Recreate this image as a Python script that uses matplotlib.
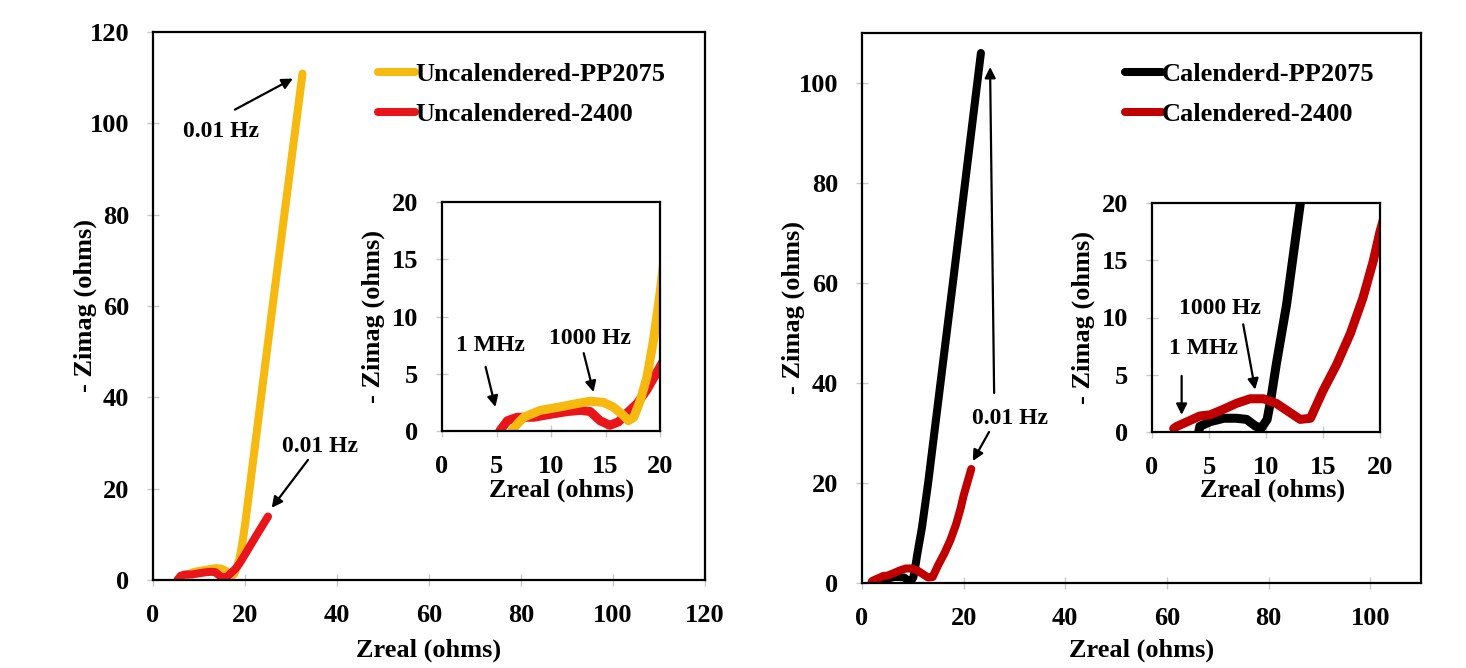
import matplotlib
matplotlib.use("Agg")
import matplotlib.pyplot as plt

plt.rcParams["font.family"] = ["Liberation Serif", "DejaVu Serif"]
plt.rcParams["font.weight"] = "bold"

# uncalendered cells (left panel)
unc_pp_x = [6.4, 6.9, 7.5, 9.0, 10.8, 12.4, 13.6, 14.8, 15.7, 16.6, 17.1, 17.6,
            18.2, 18.8, 19.4, 20.0, 26.0, 32.5]
unc_pp_y = [0.0, 0.6, 1.2, 1.8, 2.1, 2.4, 2.6, 2.5, 2.1, 1.4, 0.9, 1.2,
            2.7, 4.7, 7.9, 12.0, 60.0, 110.9]
unc_24_x = [5.3, 6.0, 6.9, 8.4, 10.2, 11.5, 12.7, 13.6, 14.5, 15.4, 16.2, 16.9,
            17.9, 18.8, 20.0, 22.5, 25.0]
unc_24_y = [0.0, 0.9, 1.2, 1.2, 1.5, 1.7, 1.8, 1.7, 0.9, 0.5, 0.8, 1.5,
            2.4, 3.6, 5.6, 9.8, 13.9]

# calendered cells (right panel)
cal_pp_x = [4.1, 4.2, 5.1, 6.3, 7.4, 8.3, 9.1, 9.6, 10.1, 10.4, 10.9, 11.8,
            13.0, 18.0, 23.4]
cal_pp_y = [0.0, 0.5, 0.9, 1.2, 1.2, 1.1, 0.5, 0.35, 1.1, 2.7, 5.9, 11.1,
            19.9, 61.0, 106.0]
cal_24_x = [1.9, 2.2, 3.1, 4.2, 5.1, 6.3, 7.4, 8.6, 9.8, 10.9, 12.1, 13.0,
            13.9, 15.0, 16.2, 17.4, 18.5, 19.4, 20.0, 21.5]
cal_24_y = [0.3, 0.5, 0.9, 1.4, 1.5, 2.0, 2.5, 2.9, 2.9, 2.5, 1.7, 1.1,
            1.2, 3.6, 5.9, 8.6, 11.7, 14.9, 17.5, 22.8]

GOLD, RED, DKRED, BLACK = "#F6B910", "#E8161B", "#C00000", "#000000"
W, H = 1466, 668
fig = plt.figure(figsize=(W / 100, H / 100), dpi=100)


def px_axes(x0, x1, ytop, ybot):
    return fig.add_axes([x0 / W, 1 - ybot / H, (x1 - x0) / W, (ybot - ytop) / H])


def style(ax, xlim, ylim, step, ylab_x, xlab_y, xlab_x=0.5):
    ax.set_xlim(*xlim)
    ax.set_ylim(*ylim)
    ax.set_xticks(range(0, int(xlim[1]) + 1, step))
    ax.set_yticks(range(0, int(ylim[1]) + 1, step))
    for s in ax.spines.values():
        s.set_linewidth(1.6)
    ax.tick_params(direction="inout", length=8, width=1, color="#c8c8c8",
                   labelsize=19, pad=13)
    ax.set_xlabel("Zreal (ohms)", fontsize=19, fontweight="bold", va="center")
    ax.set_ylabel("- Zimag (ohms)", fontsize=19, fontweight="bold", va="center")
    ax.xaxis.set_label_coords(xlab_x, xlab_y)
    ax.yaxis.set_label_coords(ylab_x, 0.5)


def note(ax, txt, pos, tail, head):
    ax.text(*pos, txt, fontsize=17, fontweight="bold", ha="center", va="center")
    ax.annotate("", xy=head, xytext=tail,
                arrowprops=dict(arrowstyle="-|>", color="black", lw=1.6,
                                mutation_scale=16, shrinkA=0, shrinkB=0))


lk = dict(lw=5.8, solid_capstyle="round", solid_joinstyle="round")
ik = dict(lw=6.5, solid_capstyle="round", solid_joinstyle="round")
leg = dict(bbox_transform=fig.transFigure, frameon=False, fontsize=19,
           handlelength=1.4, handletextpad=0.0, borderpad=0, borderaxespad=0,
           labelspacing=0.62, loc="upper left")

# left main
a1 = px_axes(153, 705, 32, 580)
a1.plot(unc_pp_x, unc_pp_y, color=GOLD, label="Uncalendered-PP2075", **lk)
a1.plot(unc_24_x, unc_24_y, color=RED, label="Uncalendered-2400", **lk)
style(a1, (0, 120), (0, 120), 20, -0.123, -0.128)
note(a1, "0.01 Hz", (14.7, 98.3), (17.8, 103), (30.4, 109.8))
note(a1, "0.01 Hz", (36.3, 29.2), (33.7, 26.3), (25.8, 15.8))
a1.legend(bbox_to_anchor=(378 / W, 1 - 63 / H), **leg)

# left inset
i1 = px_axes(442, 660, 202, 431)
i1.plot(unc_24_x, unc_24_y, color=RED, **ik)
i1.plot(unc_pp_x, unc_pp_y, color=GOLD, **ik)
style(i1, (0, 20), (0, 20), 5, -0.3165, -0.258, 0.55)
note(i1, "1 MHz", (4.4, 7.5), (4.0, 5.6), (4.9, 2.1))
note(i1, "1000 Hz", (13.6, 8.1), (13.0, 6.8), (13.9, 3.4))

# right main
a2 = px_axes(862, 1421, 33, 583)
a2.plot(cal_pp_x, cal_pp_y, color=BLACK, label="Calenderd-PP2075", **lk)
a2.plot(cal_24_x, cal_24_y, color=DKRED, label="Calendered-2400", **lk)
style(a2, (0, 110), (0, 110), 20, -0.1234, -0.122)
note(a2, "0.01 Hz", (29.1, 33.0), (25.0, 30.2), (21.8, 24.4))
note(a2, "", (26, 38), (26.0, 38.0), (25.2, 103.2))
a2.legend(bbox_to_anchor=(1125 / W, 1 - 63 / H), **leg)

# right inset
i2 = px_axes(1152, 1380, 203, 432)
i2.plot(cal_pp_x, cal_pp_y, color=BLACK, **ik)
i2.plot(cal_24_x, cal_24_y, color=DKRED, **ik)
style(i2, (0, 20), (0, 20), 5, -0.3026, -0.253, 0.53)
note(i2, "1000 Hz", (6.0, 10.8), (8.0, 9.4), (9.05, 3.7))
note(i2, "1 MHz", (4.5, 7.3), (2.6, 4.9), (2.6, 1.5))

fig.savefig("out.png", dpi=100)
